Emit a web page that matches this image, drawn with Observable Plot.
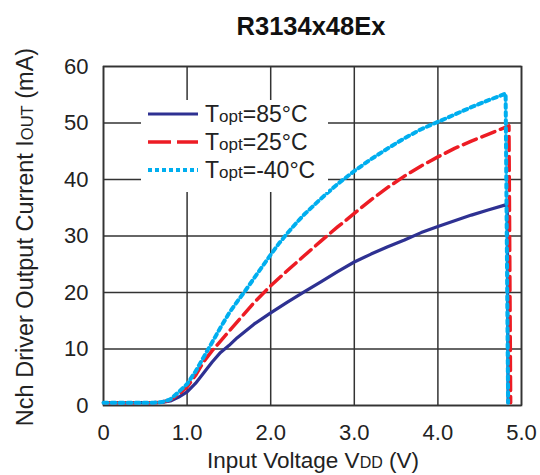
<!DOCTYPE html>
<html><head><meta charset="utf-8">
<script src="https://cdn.jsdelivr.net/npm/d3@7"></script>
<script src="https://cdn.jsdelivr.net/npm/@observablehq/plot@0.6"></script>
<style>body{margin:0;background:#fff} svg{display:block}</style>
</head><body><div id="chart"></div>
<script>
// ---- data ----
const xTicks = [0, 1, 2, 3, 4, 5];
const xTickLabels = ["0", "1.0", "2.0", "3.0", "4.0", "5.0"];
const yTicks = [0, 10, 20, 30, 40, 50, 60];

const v85 = [0, 0.3, 0.6, 0.7, 0.8, 0.9, 1.0, 1.1, 1.2, 1.3, 1.4, 1.5, 1.6, 1.8, 2.0, 2.2, 2.4, 2.6, 2.8, 3.0, 3.2, 3.4, 3.6, 3.8, 4.0, 4.2, 4.4, 4.6, 4.83, 4.84];
const i85 = [0.5, 0.5, 0.5, 0.55, 0.8, 1.5, 2.4, 3.9, 5.8, 7.7, 9.4, 10.6, 12.0, 14.4, 16.4, 18.3, 20.1, 21.9, 23.7, 25.4, 26.8, 28.1, 29.3, 30.6, 31.7, 32.7, 33.7, 34.6, 35.6, 0.5];

const v25 = [0, 0.3, 0.6, 0.7, 0.8, 0.9, 1.0, 1.1, 1.2, 1.3, 1.4, 1.5, 1.6, 1.8, 2.0, 2.2, 2.4, 2.6, 2.8, 3.0, 3.2, 3.4, 3.6, 3.8, 4.0, 4.2, 4.4, 4.6, 4.85, 4.87];
const i25 = [0.5, 0.5, 0.5, 0.6, 1.0, 2.0, 3.3, 5.3, 7.8, 9.7, 11.4, 13.1, 14.8, 18.2, 21.2, 23.9, 26.5, 29.1, 31.6, 34.0, 36.4, 38.6, 40.6, 42.4, 44.0, 45.5, 46.8, 48.0, 49.5, 0.5];

const vm40 = [0, 0.3, 0.6, 0.7, 0.8, 0.9, 1.0, 1.1, 1.2, 1.3, 1.4, 1.5, 1.6, 1.7, 1.8, 1.9, 2.0, 2.1, 2.2, 2.3, 2.4, 2.5, 2.6, 2.8, 3.0, 3.2, 3.4, 3.6, 3.8, 4.0, 4.2, 4.4, 4.6, 4.81, 4.84];
const im40 = [0.5, 0.5, 0.5, 0.6, 1.1, 2.4, 3.8, 6.0, 8.6, 11.2, 13.8, 16.3, 18.4, 20.4, 22.5, 24.6, 26.7, 28.7, 30.5, 32.2, 33.8, 35.2, 36.6, 39.2, 41.5, 43.6, 45.5, 47.3, 48.9, 50.2, 51.5, 52.8, 54.0, 55.2, 0.5];

const seriesNames = ["85°C", "25°C", "-40°C"];
const seriesColors = ["#2e3192", "#ed1c24", "#00aeef"];

const toRows = (vs, is) => vs.map((v, k) => ({v, i: is[k]}));
const d85 = toRows(v85, i85), d25 = toRows(v25, i25), dm40 = toRows(vm40, im40);

const FONT = "'Liberation Sans', Arial, Helvetica, sans-serif";
const gridColor = "#333";

const chart = Plot.plot({
  width: 540, height: 475,
  marginLeft: 103, marginRight: 19, marginTop: 66, marginBottom: 70,
  style: {fontFamily: FONT, fontSize: "22px", color: "#222", background: "#fff"},
  x: {domain: [0, 5]},
  y: {domain: [0, 60]},
  marks: [
    Plot.gridX(xTicks, {stroke: gridColor, strokeOpacity: 1, strokeWidth: 1.5}),
    Plot.gridY(yTicks, {stroke: gridColor, strokeOpacity: 1, strokeWidth: 1.5}),
    Plot.frame({stroke: gridColor, strokeWidth: 1.6}),
    Plot.axisX(xTicks, {tickSize: 0, tickPadding: 19, fontSize: 22, tickFormat: (d, k) => xTickLabels[k], label: null, fill: "#222"}),
    Plot.axisY(yTicks, {tickSize: 0, tickPadding: 15, fontSize: 22, label: null, fill: "#222"}),
    Plot.line(d85, {x: "v", y: "i", stroke: seriesColors[0], strokeWidth: 3.2}),
    Plot.line(d25, {x: "v", y: "i", stroke: seriesColors[1], strokeWidth: 3.5, strokeDasharray: "14,6"}),
    Plot.line(dm40, {x: "v", y: "i", stroke: seriesColors[2], strokeWidth: 4, strokeDasharray: "4,4"})
  ]
});
document.getElementById("chart").append(chart);

const svg = d3.select(chart);
// title
svg.append("text").attr("x", 311).attr("y", 35).attr("text-anchor", "middle")
  .attr("font-family", FONT).attr("font-weight", "bold").attr("font-size", 25.5).attr("fill", "#111")
  .text("R3134x48Ex");

// x label
const xl = svg.append("text").attr("x", 313).attr("y", 468).attr("text-anchor", "middle")
  .attr("font-family", FONT).attr("font-size", 22.5).attr("fill", "#222");
xl.append("tspan").text("Input Voltage V");
xl.append("tspan").attr("font-size", 16).text("DD");
xl.append("tspan").text(" (V)");

// y label
const yl = svg.append("text").attr("transform", "translate(33,237) rotate(-90)").attr("text-anchor", "middle")
  .attr("font-family", FONT).attr("font-size", 23.5).attr("fill", "#222");
yl.append("tspan").text("Nch Driver Output Current I");
yl.append("tspan").attr("font-size", 16.5).text("OUT");
yl.append("tspan").text(" (mA)");

// legend
const lg = svg.append("g");
lg.append("rect").attr("x", 141).attr("y", 100).attr("width", 187).attr("height", 92).attr("fill", "#fff");
const dashes = [null, "23,6", "4,3"];
const widths = [3.2, 3.5, 4];
const rowsY = [114, 142, 170];
seriesNames.forEach((name, k) => {
  lg.append("line").attr("x1", 148).attr("x2", 198).attr("y1", rowsY[k]).attr("y2", rowsY[k])
    .attr("stroke", seriesColors[k]).attr("stroke-width", widths[k])
    .attr("stroke-dasharray", dashes[k]);
  const t = lg.append("text").attr("x", 205).attr("y", rowsY[k] + 8).attr("text-anchor", "start")
    .attr("font-family", FONT).attr("font-size", 23).attr("fill", "#222");
  t.append("tspan").text("T");
  t.append("tspan").attr("font-size", 17).text("opt");
  t.append("tspan").text("=" + name);
});
</script>
</body></html>
